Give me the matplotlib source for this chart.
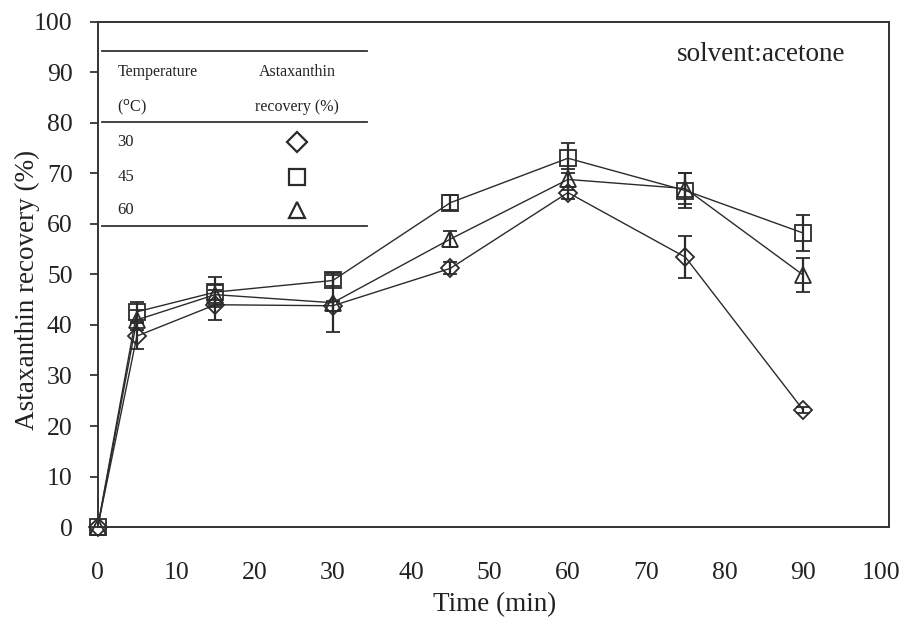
import numpy as np
import matplotlib.pyplot as plt

# Astaxanthin recovery vs extraction time, solvent: acetone
time_min = [0, 5, 15, 30, 45, 60, 75, 90]

rec_30 = [0, 37.8, 44.0, 43.8, 51.2, 66.2, 53.4, 23.2]
err_30 = [0, 2.5, 3.0, 1.0, 1.2, 1.2, 4.2, 0.6]

rec_45 = [0, 42.6, 46.5, 48.8, 64.2, 73.0, 66.6, 58.2]
err_45 = [0, 2.0, 3.0, 1.0, 1.5, 3.0, 3.5, 3.5]

rec_60 = [0, 41.0, 46.0, 44.4, 57.0, 68.8, 67.0, 49.9]
err_60 = [0, 2.0, 2.0, 5.8, 1.5, 2.0, 3.0, 3.4]

temps = ['30', '45', '60']
markers = ['D', 's', '^']
sizes = [9, 11, 11]

plt.rcParams['font.family'] = ['Liberation Serif', 'DejaVu Serif']

fig = plt.figure(figsize=(9.13, 6.23), dpi=100)
ax = fig.add_axes([0.107, 0.154, 0.867, 0.811])

ink = '#2b2b2b'
for rec, err, m, ms in zip([rec_30, rec_45, rec_60], [err_30, err_45, err_60], markers, sizes):
    lines = ax.errorbar(time_min, rec, yerr=err, color=ink, lw=1.0, marker=m, ms=ms,
                        mfc='none', mec=ink, mew=1.3, ecolor=ink, elinewidth=1.6,
                        capsize=5, capthick=1.6)
    lines[0].set_clip_on(False)

ax.set_xlim(0, 101)
ax.set_ylim(0, 100)
ax.set_xticks(np.arange(0, 101, 10))
ax.set_yticks(np.arange(0, 101, 10))
ax.tick_params(axis='x', length=0, pad=25, labelsize=18.5, colors='#222222')
ax.tick_params(axis='y', direction='out', length=6, width=1.2, pad=12,
               labelsize=18.5, colors='#222222')
for s in ax.spines.values():
    s.set_color('#333333')
    s.set_linewidth(1.4)

fig.text(0.542, 0.029, 'Time (min)', fontsize=19.5, ha='center', va='center', color='#222222')
fig.text(0.030, 0.535, 'Astaxanthin recovery (%)', fontsize=19.5, rotation=90,
         ha='center', va='center', color='#222222')

ax.text(0.944, 0.935, 'solvent:acetone', transform=ax.transAxes, fontsize=19.5,
        ha='right', va='center', color='#222222')

# legend drawn as a small table
tr = ax.transAxes
for yl in [0.943, 0.802, 0.596]:
    ax.plot([0.006, 0.34], [yl, yl], color='#333333', lw=1.3, transform=tr, clip_on=False)
ax.text(0.025, 0.901, 'Temperature', transform=tr, fontsize=11.5, va='center', color='#222222')
ax.text(0.025, 0.832, '($^{\\rm o}$C)', transform=tr, fontsize=11.5, va='center', color='#222222')
ax.text(0.252, 0.901, 'Astaxanthin', transform=tr, fontsize=11.5, ha='center', va='center', color='#222222')
ax.text(0.252, 0.832, 'recovery (%)', transform=tr, fontsize=11.5, ha='center', va='center', color='#222222')
for t, m, yy in zip(temps, markers, [0.762, 0.693, 0.628]):
    ax.text(0.025, yy, t, transform=tr, fontsize=12, va='center', color='#222222')
    ax.plot([0.252], [yy], marker=m, ms=12 if m != 'D' else 10, mfc='none', mec=ink,
            mew=1.6, transform=tr, clip_on=False)

fig.savefig('out.png', dpi=100)
